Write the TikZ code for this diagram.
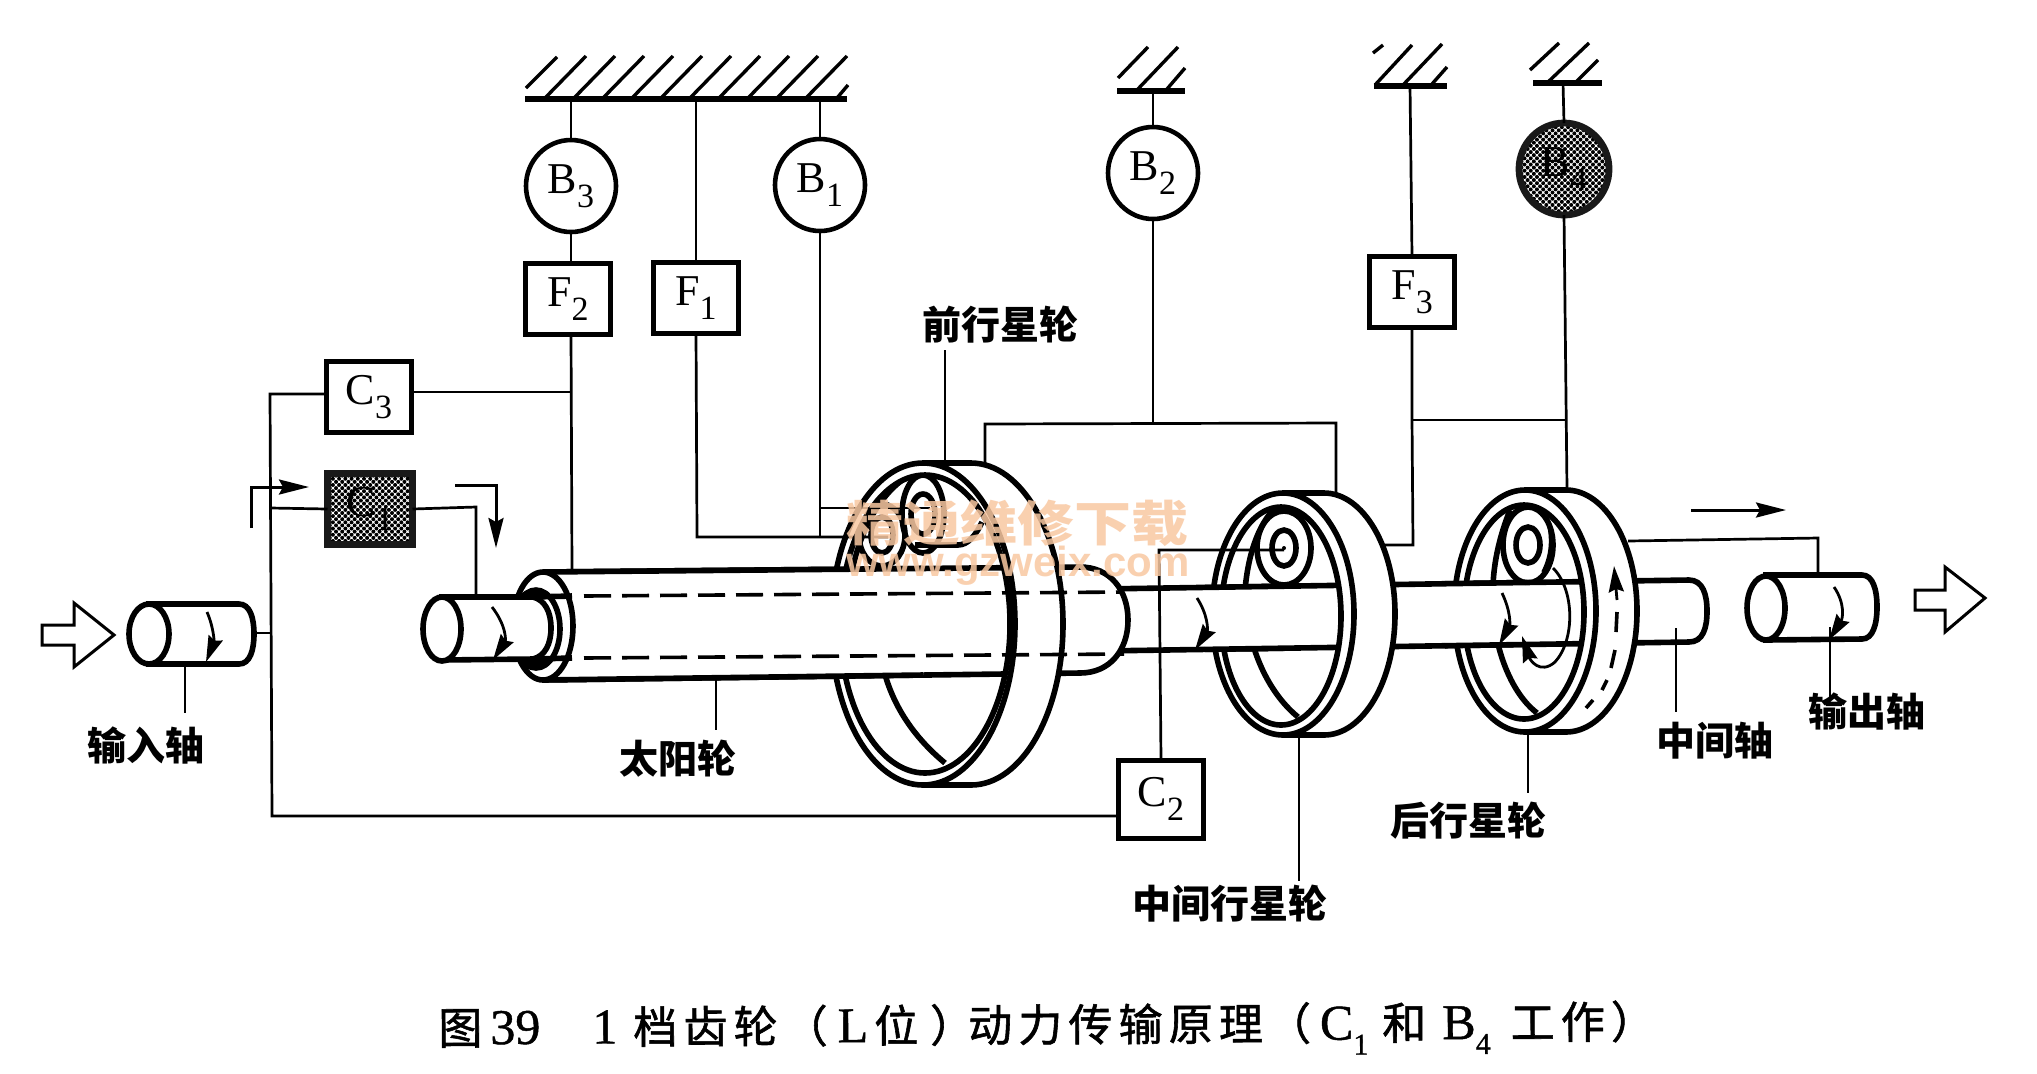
\documentclass[tikz,border=0pt]{standalone}
\usepackage{fontspec}
\usetikzlibrary{arrows.meta,shapes.geometric,calc,patterns.meta}
\setmainfont{Liberation Serif}
\newfontfamily\cjk{Noto Sans CJK SC}
\newfontfamily\cjktitle{Noto Sans CJK SC}[LetterSpace=14,FakeBold=1.3]
\newfontfamily\latitle{Liberation Serif}[FakeBold=0.9]
\newfontfamily\wmsans{Liberation Sans}
\definecolor{wmark}{HTML}{F9C8A2}
\newcommand\lab[2]{#1\raisebox{-0.32em}{\fontsize{17}{17}\selectfont #2}}
\newcommand\tsub[2]{#1\raisebox{-0.3em}{\fontsize{15}{15}\selectfont #2}}
\newcommand\tlat{\latitle\fontsize{25}{25}\selectfont}
\newcommand\tcjk{\cjktitle\fontsize{22}{22}\selectfont}
% outer body of a wheel with a hole: cx cy rx ry backcx ; hole cx cy rx ry
\newcommand\wheelbody[9]{%
  \path[fill=white,even odd rule] ({#1},{#2-#4}) -- ({#5},{#2-#4}) arc[start angle=-90,end angle=90,x radius=#3,y radius=#4] -- ({#1},{#2+#4}) arc[start angle=90,end angle=270,x radius=#3,y radius=#4] -- cycle
     (#6,#7) ellipse[x radius=#8,y radius=#9];
  \draw[thk] ({#1},{#2-#4}) -- ({#5},{#2-#4}) arc[start angle=-90,end angle=90,x radius=#3,y radius=#4] -- ({#1},{#2+#4});
  \draw[thk] (#1,#2) ellipse[x radius=#3,y radius=#4];
  \draw[thk] (#6,#7) ellipse[x radius=#8,y radius=#9];
}
\tikzset{
  thn/.style={line width=1.35pt},
  thk/.style={line width=2.8pt},
  med/.style={line width=1.8pt},
  sq/.style={draw,line width=2.5pt,fill=white,rectangle,minimum width=42.5pt,minimum height=35.5pt,inner sep=0pt,outer sep=0pt,font=\fontsize{22}{22}\selectfont},
  rnd/.style={draw,line width=2.3pt,fill=white,ellipse,minimum width=45pt,minimum height=46pt,inner sep=0pt,outer sep=0pt,font=\fontsize{22}{22}\selectfont},
  act/.style={preaction={fill=white},draw=black!90,line width=3.4pt,fill=none,pattern={Dots[distance=2.2pt,radius=1pt,angle=45]},pattern color=black},
  zh/.style={font=\cjk\bfseries\fontsize{19.5}{19.5}\selectfont,inner sep=0pt},
  hatch/.style={line width=1.7pt},
  bar/.style={line width=2.8pt},
  flow/.style={line width=1.5pt,-{Stealth[length=15pt,width=7.5pt,inset=2pt]}},
  spin/.style={line width=1.4pt,-{Stealth[length=13pt,width=7.5pt,inset=1.5pt]}},
  hollow/.style={draw,line width=1.5pt,fill=white,line join=miter},
  dsh/.style={line width=1.8pt,dash pattern=on 13.5pt off 5.5pt},
}
\begin{document}
\begin{tikzpicture}[x=0.5pt,y=-0.5pt]
\useasboundingbox[fill=white] (0,0) rectangle (2037,1073);

% === wheel interiors ===
% front planet wheel
\draw[thk] (945,763) .. controls (905,730) and (885,690) .. (880,650);
\draw[thk] (852,572) .. controls (860,530) and (880,495) .. (905,478);
\draw[thk] (882,535) ellipse[x radius=23,y radius=31];
\draw[thk] (882,535) ellipse[x radius=11,y radius=18];
\draw[thk] (923,514) ellipse[x radius=21,y radius=39];
\draw[thk] (923,514) ellipse[x radius=12,y radius=20];
\draw[thk] (915,545) -- (958,545) .. controls (968,545) and (976,535) .. (982,522);
% middle planet wheel
\draw[thk] (1298,717) .. controls (1265,690) and (1245,640) .. (1245,590) .. controls (1248,555) and (1258,525) .. (1275,508);
\draw[thk] (1284,548) ellipse[x radius=27,y radius=37];
\draw[thk] (1284,548) ellipse[x radius=12,y radius=18];
\fill (1284,548) circle[radius=2];
% rear planet wheel
\draw[thk] (1510,510) .. controls (1490,560) and (1490,600) .. (1497,640) .. controls (1505,675) and (1520,700) .. (1537,713);
\draw[thk,fill=white] (1528,545) ellipse[x radius=25,y radius=38];
\draw[thk] (1528,545) ellipse[x radius=12,y radius=18];
\draw[med] (1546,515) .. controls (1553,535) and (1552,555) .. (1543,572);

% === intermediate shaft ===
\draw[thk,fill=white] (1100,589) -- (1689,580) .. controls (1703,580) and (1707,595) .. (1707,611) .. controls (1707,628) and (1703,642) .. (1689,642) -- (1100,651);

% === middle and rear wheels with their shaft overlays ===
\wheelbody{1283}{614}{71}{121}{1324}{1281}{616}{60}{109}
\fill[white] (1205,587.4) rectangle (1283,649);
\draw[thk] (1205,587.4) -- (1283,586.2) (1205,649.4) -- (1283,648.2);
\wheelbody{1525}{611}{71}{121}{1566}{1524}{612}{60}{107}
\fill[white] (1445,583.7) rectangle (1525,645);
\draw[thk] (1445,583.7) -- (1525,582.5) (1445,645.7) -- (1525,644.5);

% === hollow sun-gear shaft and front wheel ===
\draw[thk,fill=white] (543,572) -- (1080,567) .. controls (1110,567) and (1128,590) .. (1128,620) .. controls (1128,650) and (1110,673) .. (1080,673) -- (543,680);
\wheelbody{923}{624}{92}{161}{971}{925}{624}{85}{149}
\fill[white] (540,572) -- (923,568.5) -- (923,675) -- (540,680) -- cycle;
\draw[thk] (543,572) -- (923,568.5) (543,680) -- (923,675);

% === front end of hollow shaft ===
\draw[thk,fill=white] (543,626) ellipse[x radius=30,y radius=54];
\draw[thk,fill=white] (536,629) ellipse[x radius=24,y radius=39];
\fill[black] (522,593) -- (540,590) -- (552,598) -- (522,598) -- cycle;
\fill[black] (522,665) -- (540,668) -- (552,660) -- (522,660) -- cycle;
% === small input shaft ===
\draw[thk,fill=white] (442,597) -- (533,597) .. controls (545,600) and (551,612) .. (551,628) .. controls (551,644) and (545,656) .. (533,659) -- (442,660) -- cycle;
\draw[thk] (533,597) -- (572,596) (533,659) -- (572,658);
\draw[thk,fill=white] (442,629) ellipse[x radius=19,y radius=32];

% dashed inner shaft
\draw[dsh] (584,596) -- (1124,592);
\draw[dsh] (584,658) -- (1124,654);

% === input and output shafts ===
\draw[thk,fill=white] (149,604) -- (239,604) .. controls (250,604) and (254,618) .. (254,634) .. controls (254,650) and (250,664) .. (239,664) -- (149,664) -- cycle;
\draw[thk,fill=white] (149,634) ellipse[x radius=20,y radius=30];
\draw[thk,fill=white] (1766,575) -- (1862,575) .. controls (1873,575) and (1877,590) .. (1877,607) .. controls (1877,624) and (1873,639) .. (1862,639) -- (1766,640) -- cycle;
\draw[thk,fill=white] (1766,608) ellipse[x radius=19,y radius=32];

% === ground hatches ===
\coordinate (g3) at (571,99);
\coordinate (gF1) at (696,99);
\coordinate (g1) at (820,99);
\coordinate (g2) at (1153,91);
\coordinate (gF3) at (1410,86);
\coordinate (g4) at (1563,83);
\draw[bar] (525,99) -- (847,99);
\foreach \x in {545,574,603,632,661,690,719,748,777,806}
  \draw[hatch] (\x,98) -- ({\x+41},56);
\draw[hatch] (526,88) -- (557,57);
\draw[hatch] (837,98) -- (848,85);
\draw[bar] (1117,91) -- (1185,91);
\draw[hatch] (1118,78) -- (1148,47) (1137,90) -- (1178,47) (1167,89) -- (1185,68);
\draw[bar] (1374,86) -- (1447,86);
\draw[hatch] (1373,53) -- (1383,45) (1375,85) -- (1412,45) (1403,85) -- (1442,44) (1432,84) -- (1447,67);
\draw[bar] (1533,83) -- (1602,83);
\draw[hatch] (1530,70) -- (1559,43) (1548,82) -- (1589,43) (1576,82) -- (1598,60);

% === nodes ===
\node[rnd] (B3) at (571,186) {\lab{B}{3}};
\node[rnd] (B1) at (820,185) {\lab{B}{1}};
\node[rnd] (B2) at (1153,173) {\lab{B}{2}};
\node[rnd,act] (B4) at (1564,169) {\lab{B}{4}};
\node[sq] (F2) at (568,299) {\lab{F}{2}};
\node[sq] (F1) at (696,298) {\lab{F}{1}};
\node[sq] (F3) at (1412,292) {\lab{F}{3}};
\node[sq] (C3) at (369,397) {\lab{C}{3}};
\node[sq,act] (C1) at (370,509) {\lab{C}{1}};
\node[sq,minimum height=39pt] (C2) at (1161,799) {\lab{C}{2}};

% === connector coordinates ===
\coordinate (sunTop) at (572,572);
\coordinate (c3j) at (571,392);
\coordinate (c3e) at (412,392);
\coordinate (c3w) at (326,394);
\coordinate (railTop) at (270,394);
\coordinate (railBot) at (272,816);
\coordinate (c2w) at (1118,816);
\coordinate (railIn) at (271,633);
\coordinate (inEnd) at (254,633);
\coordinate (railC1) at (271,508);
\coordinate (c1o) at (476,507);
\coordinate (sTop) at (476,597);
\coordinate (b1j) at (820,538);
\coordinate (b1k) at (820,508);
\coordinate (planB) at (930,508);
\coordinate (f1j) at (697,537);
\coordinate (planA) at (888,537);
\coordinate (b2j) at (1153,423);
\coordinate (b2l) at (985,424);
\coordinate (b2r) at (1336,423);
\coordinate (w1top) at (985,465);
\coordinate (w2top) at (1336,494);
\coordinate (c2k) at (1159,550);
\coordinate (planM) at (1284,550);
\coordinate (f3j) at (1412,420);
\coordinate (f3k) at (1413,545);
\coordinate (w2side) at (1381,545);
\coordinate (b4j) at (1566,420);
\coordinate (w3top) at (1567,490);
\coordinate (w3side) at (1628,541);
\coordinate (outK) at (1818,538);
\coordinate (outTop) at (1818,575);

% === connectors ===
\draw[thn] (g3) -- (B3.north) (B3.south) -- (B3.south |- F2.north);
\draw[thn] (F2.south -| B3.south) -- (sunTop);
\draw[thn] (gF1) -- (F1.north);
\draw[thn] (g1) -- (B1.north);
\draw[thn] (g2) -- (B2.north);
\draw[thn] (gF3) -- (F3.north);
\draw[thn] (g4) -- (B4.north);
\draw[thn] (c3e) -- (c3j);
\draw[thn] (c3w) -- (railTop) -- (railBot) -- (c2w);
\draw[thn] (inEnd) -- (railIn);
\draw[thn] (railC1) -- (C1.west);
\draw[thn] (C1.east) -- (c1o) -- (sTop);
\draw[thn] (B1.south) -- (b1j);
\draw[thn] (b1k) -- (planB);
\draw[thn] (F1.south) -- (f1j) -- (planA);
\draw[thn] (B2.south) -- (b2j);
\draw[thn] (w1top) -- (b2l) -- (b2r) -- (w2top);
\draw[thn] (C2.north) -- (c2k) -- (planM);
\draw[thn] (F3.south) -- (f3j) -- (f3k) -- (w2side);
\draw[thn] (f3j) -- (b4j);
\draw[thn] (B4.south) -- (w3top);
\draw[thn] (w3side) -- (outK) -- (outTop);

% === flow arrows ===
\coordinate (f1a) at (251,528); \coordinate (f1b) at (251,487); \coordinate (f1c) at (309,487);
\coordinate (f2a) at (455,485); \coordinate (f2b) at (496,485); \coordinate (f2c) at (496,548);
\coordinate (f3a) at (1691,510); \coordinate (f3c) at (1786,510);
\draw[flow] (f1a) -- (f1b) -- (f1c);
\draw[flow] (f2a) -- (f2b) -- (f2c);
\draw[flow] (f3a) -- (f3c);

% === rotation arrows ===
\draw[spin] (207,612) .. controls (214,628) and (214,642) .. (206,662);
\draw[spin] (492,607) .. controls (506,625) and (506,640) .. (493,660);
\draw[spin] (1197,598) .. controls (1208,615) and (1208,630) .. (1195,650);
\draw[spin] (1834,587) .. controls (1845,603) and (1843,618) .. (1829,640);
\draw[spin] (1502,593) .. controls (1511,612) and (1510,625) .. (1499,645);
\draw[spin] (1553,568) .. controls (1575,590) and (1575,640) .. (1555,662) .. controls (1540,675) and (1530,660) .. (1522,636);
\draw[med] (1586,708) -- (1593,700);
\draw[med] (1602,690) -- (1607,680);
\draw[med] (1611,668) -- (1615,650);
\draw[med] (1616,632) -- (1617,612);
\draw[spin] (1617,600) -- (1614,566);

% === big hollow arrows ===
\path[hollow] (42,625) -- (74,625) -- (74,603) -- (114,635) -- (74,667) -- (74,645) -- (42,645) -- cycle;
\path[hollow] (1915,590) -- (1945,590) -- (1945,567) -- (1985,598) -- (1945,632) -- (1945,610) -- (1915,610) -- cycle;

% === labels ===
\node[zh] (tIn) at (146,745) {输入轴};
\node[zh] (tSun) at (678,759) {太阳轮};
\node[zh] (tFront) at (1000,325) {前行星轮};
\node[zh] (tMid) at (1230,904) {中间行星轮};
\node[zh] (tRear) at (1468,821) {后行星轮};
\node[zh] (tShaft) at (1715,741) {中间轴};
\node[zh] (tOut) at (1867,711) {输出轴};
\coordinate (lIn) at (185,665); \coordinate (lInE) at (185,713);
\coordinate (lSun) at (716,680); \coordinate (lSunE) at (716,730);
\coordinate (lFr) at (945,350); \coordinate (lFrE) at (945,464);
\coordinate (lMd) at (1299,736); \coordinate (lMdE) at (1299,881);
\coordinate (lRr) at (1528,733); \coordinate (lRrE) at (1528,793);
\coordinate (lSh) at (1676,628); \coordinate (lShE) at (1676,712);
\coordinate (lOt) at (1830,627); \coordinate (lOtE) at (1830,697);
\draw[thn] (lIn) -- (lInE) (lSun) -- (lSunE) (lFr) -- (lFrE) (lMd) -- (lMdE) (lRr) -- (lRrE) (lSh) -- (lShE) (lOt) -- (lOtE);

% === caption ===
\node[anchor=west,inner sep=0pt,rotate=0.3] (caption) at (438,1033) {\tcjk 图\hspace{4pt}\tlat 39\hspace{26pt}1\hspace{8pt}\tcjk 档齿轮\hspace{3pt}（\hspace{5pt}\tlat L\hspace{3pt}\tcjk 位\hspace{6pt}）\hspace{-3pt}动力传输原理\hspace{2pt}（\hspace{4.5pt}\tlat\tsub{C}{1}\hspace{7pt}\tcjk 和\hspace{8pt}\tlat\tsub{B}{4}\hspace{10pt}\tcjk 工作）};

% === watermark ===
\begin{scope}[opacity=.85]
\node[text=wmark,yscale=.85,inner sep=0pt,font=\cjk\bfseries\fontsize{28.5}{28.5}\selectfont] (wm1) at (1017,523) {精通维修下载};
\node[text=wmark,inner sep=0pt,font=\wmsans\bfseries\fontsize{21}{21}\selectfont] (wm2) at (1018,566) {www.gzweix.com};
\end{scope}
\end{tikzpicture}
\end{document}
